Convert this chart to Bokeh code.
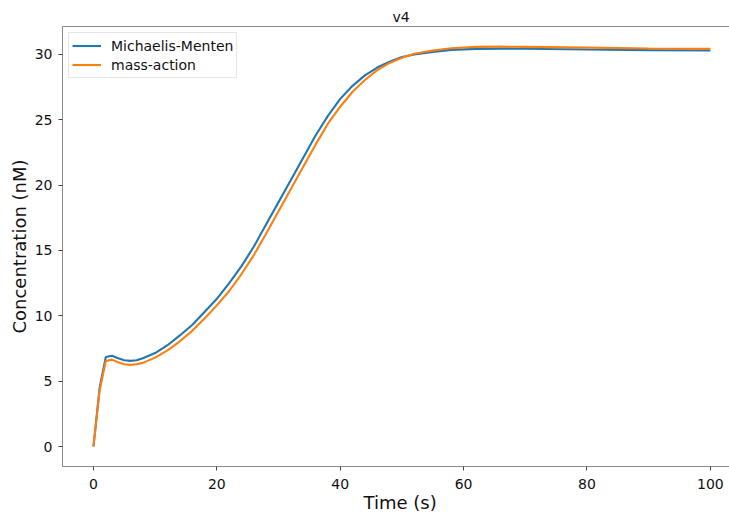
from bokeh.plotting import figure
from bokeh.models import Range1d, LinearAxis, FixedTicker, Title, Legend, LegendItem
from bokeh.embed import file_html
from bokeh.resources import INLINE

time_s = [0, 1, 2, 3, 4, 5, 6, 7, 8, 10, 12, 14, 16, 18, 20, 22, 24, 26, 28, 30,
          32, 34, 36, 38, 40, 42, 44, 46, 48, 50, 52, 55, 58, 62, 66, 70, 80, 90, 100]
michaelis_menten = [0.0, 4.5, 6.85, 6.95, 6.75, 6.6, 6.55, 6.6, 6.75, 7.15, 7.75, 8.5, 9.3,
                    10.3, 11.3, 12.5, 13.8, 15.3, 17.0, 18.7, 20.4, 22.1, 23.8, 25.3, 26.6,
                    27.6, 28.4, 29.0, 29.45, 29.8, 30.0, 30.2, 30.35, 30.43, 30.45, 30.44,
                    30.38, 30.33, 30.3]
mass_action = [0.0, 4.3, 6.55, 6.65, 6.45, 6.3, 6.25, 6.3, 6.4, 6.8, 7.35, 8.05, 8.85,
               9.8, 10.8, 11.9, 13.2, 14.65, 16.3, 18.0, 19.7, 21.4, 23.1, 24.7, 26.0,
               27.15, 28.05, 28.8, 29.35, 29.75, 30.05, 30.3, 30.48, 30.58, 30.6, 30.58,
               30.52, 30.46, 30.43]
x_ticks = [0, 20, 40, 60, 80, 100]
y_ticks = [0, 5, 10, 15, 20, 25, 30]
series_names = ["Michaelis-Menten", "mass-action"]

FONT = "DejaVu Sans"
SPINE = "#8a8a8a"

p = figure(width=729, height=515, output_backend="svg", toolbar_location=None,
           x_range=Range1d(-5.02, 103.1), y_range=Range1d(-1.53, 32.14),
           min_border_left=62, min_border_right=0, min_border_top=26, min_border_bottom=49)
p.outline_line_color = None
p.grid.visible = False
p.background_fill_color = "white"
p.border_fill_color = "white"

r1 = p.line(time_s, michaelis_menten, line_color="#1f77b4", line_width=2.1)
r2 = p.line(time_s, mass_action, line_color="#ff7f0e", line_width=2.1)

for ax in (p.xaxis[0], p.yaxis[0]):
    ax.axis_line_color = SPINE
    ax.major_tick_line_color = "#444444"
    ax.major_tick_out = 4
    ax.major_tick_in = 0
    ax.minor_tick_line_color = None
    ax.major_label_text_font = FONT
    ax.major_label_text_font_size = "14px"
    ax.major_label_text_color = "#111111"
    ax.axis_label_text_font = FONT
    ax.axis_label_text_font_size = "18px"
    ax.axis_label_text_font_style = "normal"
    ax.axis_label_text_color = "#111111"

p.xaxis[0].ticker = FixedTicker(ticks=x_ticks)
p.yaxis[0].ticker = FixedTicker(ticks=y_ticks)
p.xaxis[0].major_label_standoff = 8
p.yaxis[0].major_label_standoff = 6
p.yaxis[0].axis_label = "Concentration (nM)"
p.yaxis[0].axis_label_standoff = 2

top = LinearAxis(ticker=FixedTicker(ticks=[]), axis_line_color=SPINE,
                 major_tick_out=0, major_tick_in=0, minor_tick_out=0, minor_tick_in=0,
                 major_label_standoff=0, major_label_text_font_size="0px")
p.add_layout(top, "above")

xlabel = Title(text="Time (s)", align="left", offset=301, text_font=FONT,
               text_font_size="18px", text_font_style="normal", text_color="#111111",
               standoff=-4)
p.add_layout(xlabel, "below")

p.title.text = "v4"
p.title.align = "left"
p.title.offset = 330
p.title.text_font = FONT
p.title.text_font_size = "14px"
p.title.text_font_style = "normal"
p.title.text_color = "#111111"
p.title.standoff = 4

legend = Legend(items=[LegendItem(label=series_names[0], renderers=[r1]),
                       LegendItem(label=series_names[1], renderers=[r2])],
                location="top_left", margin=6, padding=3, spacing=0,
                glyph_width=29, glyph_height=19, label_height=19, label_standoff=10,
                label_text_font=FONT, label_text_font_size="14px", label_text_color="#111111",
                border_line_color="#cccccc", border_line_width=1,
                background_fill_alpha=0.85)
p.add_layout(legend)

open("out.html", "w").write(file_html(p, INLINE))
